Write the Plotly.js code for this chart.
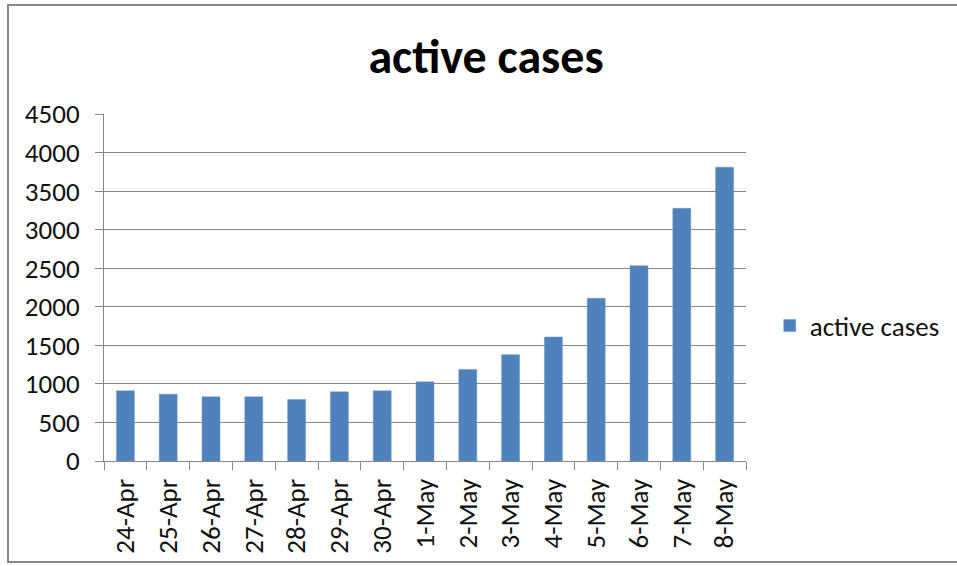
<!DOCTYPE html>
<html>
<head>
<meta charset="utf-8">
<script src="https://cdn.plot.ly/plotly-3.0.1.min.js"></script>
<style>
  html, body { margin: 0; padding: 0; background: #fff; }
  #wrap { position: relative; width: 957px; height: 566px; }
  #chart { width: 957px; height: 566px; }
  #frame { position: absolute; left: 7px; top: 4px; width: 950px; height: 559px;
           border-left: 2px solid #878787; border-top: 2px solid #878787; border-bottom: 2px solid #878787;
           box-sizing: border-box; pointer-events: none; }
</style>
</head>
<body>
<div id="wrap">
  <div id="chart"></div>
  <div id="frame"></div>
</div>
<script>
const categories = ["24-Apr","25-Apr","26-Apr","27-Apr","28-Apr","29-Apr","30-Apr","1-May","2-May","3-May","4-May","5-May","6-May","7-May","8-May"];
const activeCases = [910, 867, 832, 832, 798, 897, 910, 1027, 1188, 1379, 1608, 2111, 2532, 3277, 3811];
const seriesName = "active cases";
const chartTitle = "active cases";
const yTickValues = [0, 500, 1000, 1500, 2000, 2500, 3000, 3500, 4000, 4500];

const FONT = "Carlito, Lato, 'Open Sans', sans-serif";

const trace = {
  type: "bar",
  x: categories,
  y: activeCases,
  name: seriesName,
  marker: { color: "#4F81BD", line: { color: "#6a96cc", width: 0.5 } },
  showlegend: true,
  hoverinfo: "x+y"
};

const layout = {
  width: 957,
  height: 566,
  margin: { l: 104, r: 209, t: 114, b: 105, pad: 0 },
  paper_bgcolor: "#ffffff",
  plot_bgcolor: "#ffffff",
  font: { family: FONT, color: "#111111", size: 27 },
  title: {
    text: "<b>" + chartTitle + "</b>",
    font: { family: FONT, size: 48, color: "#000000" },
    x: 0.595, xanchor: "center", xref: "paper",
    y: 0.9, yanchor: "middle"
  },
  bargap: 0.58,
  xaxis: {
    type: "category",
    tickangle: -90,
    tickson: "boundaries",
    ticks: "outside",
    ticklen: 8,
    tickcolor: "#878787",
    tickwidth: 1,
    ticklabelstandoff: 6,
    showline: true,
    linecolor: "#878787",
    linewidth: 1,
    showgrid: false,
    tickfont: { family: FONT, size: 27, color: "#111111" },
    fixedrange: true
  },
  yaxis: {
    range: [0, 4500],
    tickvals: yTickValues,
    ticktext: yTickValues.map(String),
    ticks: "outside",
    ticklen: 8,
    tickcolor: "#878787",
    ticklabelstandoff: 10,
    showline: true,
    linecolor: "#878787",
    linewidth: 1,
    showgrid: true,
    gridcolor: "#878787",
    gridwidth: 1,
    zeroline: false,
    tickfont: { family: FONT, size: 27, color: "#111111" },
    fixedrange: true
  },
  showlegend: true,
  legend: {
    x: 1.037, xanchor: "left",
    y: 0.389, yanchor: "middle",
    font: { family: FONT, size: 27, color: "#111111" },
    bgcolor: "rgba(0,0,0,0)",
    itemwidth: 30
  }
};

Plotly.newPlot("chart", [trace], layout, { displayModeBar: false, staticPlot: true });
</script>
</body>
</html>
